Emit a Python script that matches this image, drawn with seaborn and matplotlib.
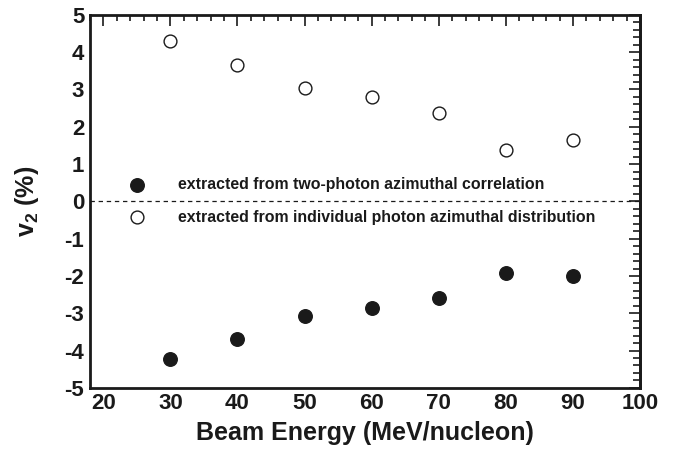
import matplotlib
matplotlib.use("Agg")
import matplotlib.pyplot as plt
import seaborn as sns
import pandas as pd

# Beam energies (MeV/nucleon) and the two v2 extractions (%)
energy = [30, 40, 50, 60, 70, 80, 90]
v2_two_photon = [-4.22, -3.70, -3.07, -2.85, -2.60, -1.91, -2.00]
v2_individual = [4.30, 3.66, 3.04, 2.80, 2.37, 1.38, 1.65]
labels = ["extracted from two-photon azimuthal correlation",
          "extracted from individual photon azimuthal distribution"]

sns.set_theme(style="white")
plt.rcParams["font.family"] = ["Liberation Sans", "DejaVu Sans"]
plt.rcParams["font.weight"] = "bold"
plt.rcParams["axes.unicode_minus"] = False
plt.rcParams["mathtext.fontset"] = "custom"
plt.rcParams["mathtext.bf"] = "Liberation Sans:bold"
plt.rcParams["mathtext.rm"] = "Liberation Sans:bold"

ink = "#1a1a1a"

df = pd.DataFrame({
    "energy": energy * 2,
    "v2": v2_two_photon + v2_individual,
    "method": [labels[0]] * len(energy) + [labels[1]] * len(energy),
})

fig = plt.figure(figsize=(6.86, 4.51), dpi=100)
ax = fig.add_axes([0.131, 0.140, 0.802, 0.827])

ax.axhline(0, color=ink, lw=0.9, ls=(0, (3.5, 3)), zorder=1)

sns.scatterplot(data=df[df.method == labels[0]], x="energy", y="v2", ax=ax,
                color=ink, edgecolor=ink, s=95, linewidth=1.0,
                legend=False, zorder=3)
sns.scatterplot(data=df[df.method == labels[1]], x="energy", y="v2", ax=ax,
                facecolor="white", edgecolor=ink, s=85, linewidth=1.0,
                legend=False, zorder=3)

ax.set_xlim(18, 100)
ax.set_ylim(-5, 5)
ax.set_xticks(range(20, 101, 10))
ax.set_yticks(range(-5, 6, 1))
ax.set_xticks([x for x in range(18, 101, 2) if x % 10], minor=True)
ax.set_yticks([y / 5 for y in range(-25, 26) if y % 5], minor=True)

for s in ax.spines.values():
    s.set_linewidth(2.0)
    s.set_color(ink)

ax.tick_params(axis="both", which="both", direction="in", colors=ink,
               labelsize=16, pad=4)
ax.tick_params(axis="y", which="major", length=12, width=1.2)
ax.tick_params(axis="y", which="minor", length=6, width=1.2)
ax.tick_params(axis="x", which="major", length=8, width=1.2, top=True)
ax.tick_params(axis="x", which="minor", length=4, width=1.2, top=True)
for lab in ax.get_xticklabels() + ax.get_yticklabels():
    lab.set_fontweight("bold")

# right-hand ticks, shorter than the left ones
ry = ax.secondary_yaxis("right")
ry.set_yticks(range(-5, 6, 1))
ry.set_yticks([y / 5 for y in range(-25, 26) if y % 5], minor=True)
ry.tick_params(which="major", direction="in", length=8, width=1.2, colors=ink,
               labelright=False)
ry.tick_params(which="minor", direction="in", length=5, width=1.2, colors=ink,
               labelright=False)
ry.spines["right"].set_linewidth(2.0)
ry.spines["right"].set_color(ink)

ax.set_xlabel("Beam Energy (MeV/nucleon)", fontsize=18, fontweight="bold",
              color=ink, labelpad=5)
ax.set_ylabel(r"v$_\mathbf{2}$ (%)", fontsize=18, fontweight="bold",
              color=ink, labelpad=17)

# legend entries drawn inside the frame
ax.scatter([25], [0.44], s=95, color=ink, zorder=3)
ax.scatter([25], [-0.42], s=85, facecolor="white", edgecolor=ink, linewidth=1.0, zorder=3)
ax.text(31.1, 0.44, labels[0], fontsize=11.4, fontweight="bold", color=ink,
        va="center", ha="left")
ax.text(31.1, -0.42, labels[1], fontsize=11.4, fontweight="bold", color=ink,
        va="center", ha="left")

fig.savefig("out.png", dpi=100)
